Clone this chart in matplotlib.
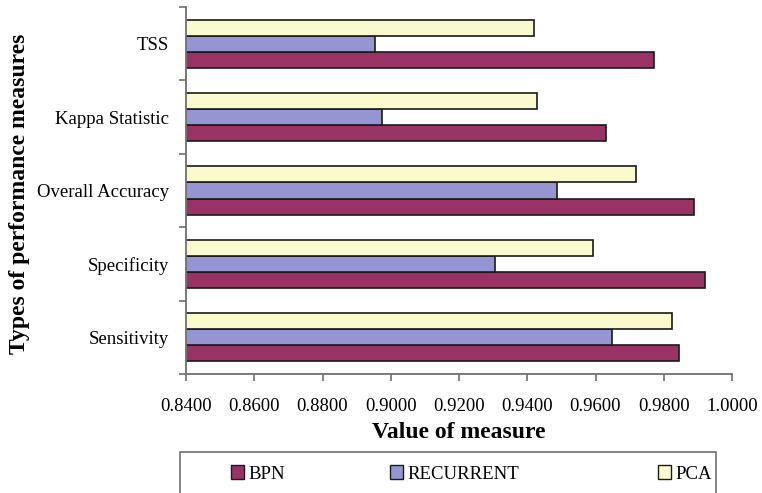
import numpy as np
import matplotlib.pyplot as plt
from matplotlib.patches import Patch, Rectangle

measures = ['Sensitivity', 'Specificity', 'Overall Accuracy', 'Kappa Statistic', 'TSS']
bpn = [0.9846, 0.9922, 0.9888, 0.9632, 0.9771]
recurrent = [0.9647, 0.9305, 0.9488, 0.8973, 0.8955]
pca = [0.9825, 0.9592, 0.9719, 0.9428, 0.9420]
series = ['BPN', 'RECURRENT', 'PCA']
colors = ['#993366', '#9595D4', '#FAFACD']
xticks = [0.84, 0.86, 0.88, 0.90, 0.92, 0.94, 0.96, 0.98, 1.00]

plt.rcParams['font.family'] = ['Liberation Serif', 'DejaVu Serif']
W, H = 762, 493
fig = plt.figure(figsize=(W / 100, H / 100), dpi=100)
ax = fig.add_axes([186 / W, 1 - 374 / H, (732 - 186) / W, (374 - 7) / H])

y = np.arange(len(measures))
h = 0.218
for vals, off, c in zip([bpn, recurrent, pca], [-h, 0, h], colors):
    ax.barh(y + off, vals, height=h, color=c, edgecolor='#1a1a1a', linewidth=1.2)

ax.set_xlim(0.84, 1.0)
ax.set_ylim(-0.5, len(measures) - 0.5)
ax.set_xticks(xticks)
ax.set_xticklabels(['%.4f' % v for v in xticks], fontsize=13.5)
ax.set_yticks(np.arange(-0.5, len(measures), 1.0))
ax.set_yticklabels([])
ax.set_yticks(y, minor=True)
ax.set_yticklabels(measures, minor=True, fontsize=13.5)
ax.tick_params(axis='y', which='minor', length=0, pad=12)
ax.tick_params(axis='y', which='major', length=5, direction='out', color='#707070', width=1.2)
ax.tick_params(axis='x', length=5, direction='out', color='#707070', width=1.2, pad=12)
for s in ['top', 'right']:
    ax.spines[s].set_visible(False)
for s in ['left', 'bottom']:
    ax.spines[s].set_color('#707070')
    ax.spines[s].set_linewidth(1.3)

ax.set_xlabel('Value of measure', fontsize=17, fontweight='bold')
ax.xaxis.set_label_coords(0.5, -0.13)
ax.set_ylabel('Types of performance measures', fontsize=17, fontweight='bold')
ax.yaxis.set_label_coords(-0.286, 0.49)

# legend frame runs off the bottom of the figure
fig.patches.append(Rectangle((180 / W, -0.1), (716 - 180) / W, 0.1 + (H - 452) / H,
                             transform=fig.transFigure, fill=False,
                             edgecolor='#707070', linewidth=1.2))
for name, c, lx in zip(series, colors, [231, 390, 658]):
    fig.legend(handles=[Patch(facecolor=c, edgecolor='#1a1a1a', label=name)],
               loc='center left', bbox_to_anchor=(lx / W, 1 - 474 / H),
               frameon=False, borderpad=0, borderaxespad=0, handlelength=0.7,
               handleheight=0.7, handletextpad=0.25, fontsize=13.5)

fig.savefig('out.png', dpi=100)
